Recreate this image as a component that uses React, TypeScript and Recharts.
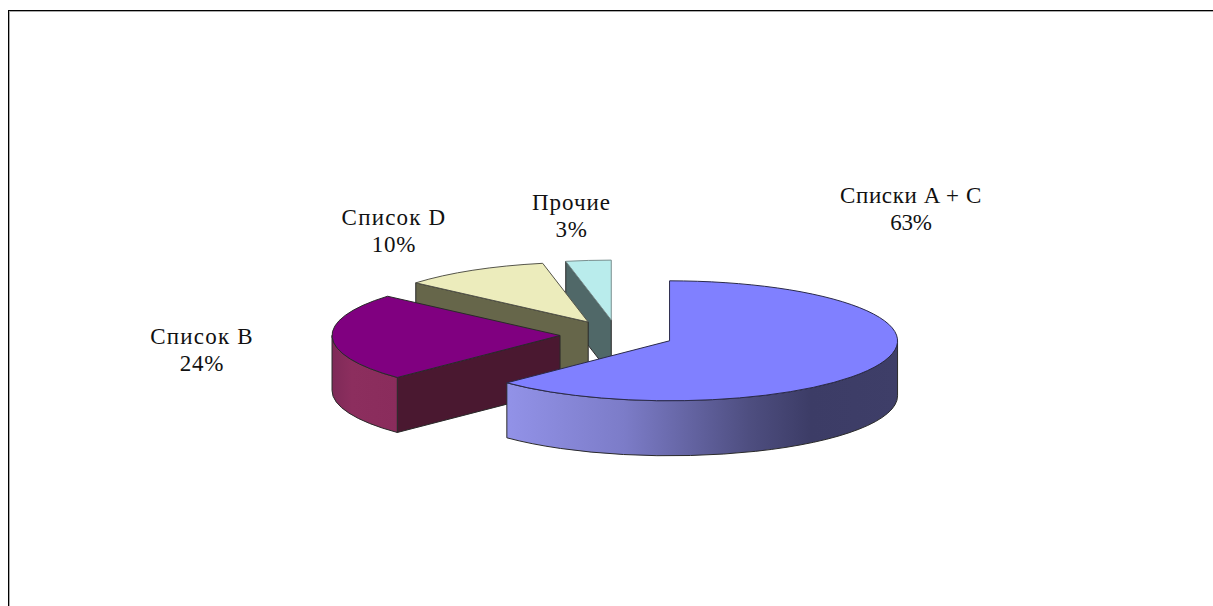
import React from "react";
import { PieChart, Pie } from "recharts";

const categories = ["Прочие", "Список D", "Список B", "Списки A + C"];
const shares = [3.2, 10.45, 23.7, 62.65];
const data = categories.map((name, i) => ({ name, value: shares[i] }));

const W = 1213;
const H = 606;
const CX = 617;
const CY = 335;
const RX = 228;
const SQUISH = 0.263;
const DEPTH = 55;
const EXPLODE = 57;

const topFill: Record<string, string> = {
  "Прочие": "#B9ECEC",
  "Список D": "#ECECBC",
  "Список B": "#800080",
  "Списки A + C": "#8080FF",
};
const wallFill: Record<string, string> = {
  "Прочие": "#506868",
  "Список D": "#66664A",
  "Список B": "#4A1830",
  "Списки A + C": "#3C3C68",
};
const topEdge: Record<string, string> = {
  "Прочие": "#7A9090",
  "Список D": "#55554A",
  "Список B": "#2A2A2A",
  "Списки A + C": "#2A2A4A",
};
const arcStops: Record<string, [number, string][]> = {
  "Список B": [[0, "#7E2A58"], [0.3, "#8C2E5E"], [1, "#8A2C5C"]],
  "Списки A + C": [[0, "#9292E8"], [0.3, "#7C7CC8"], [0.62, "#4E4E80"], [0.78, "#3C3C66"], [1, "#3E3E68"]],
};
const labelPlace: Record<string, { x: number; y: number; s1: number; s2: number }> = {
  "Прочие": { x: 571.5, y: 210, s1: 1.0, s2: 0.6 },
  "Список D": { x: 394, y: 225, s1: 1.2, s2: 0.8 },
  "Список B": { x: 202, y: 344, s1: 1.2, s2: 0.8 },
  "Списки A + C": { x: 911, y: 203, s1: 0.6, s2: -0.2 },
};

const rad = (d: number) => (d * Math.PI) / 180;

function Slice3D(props: any) {
  const { cx, cy, outerRadius, startAngle, endAngle, name, index } = props;
  const mid = (startAngle + endAngle) / 2;
  const ox = cx + EXPLODE * Math.cos(rad(mid));
  const oy = cy - EXPLODE * SQUISH * Math.sin(rad(mid));
  const ry = outerRadius * SQUISH;
  const pt = (a: number, dy = 0): [number, number] => [
    ox + outerRadius * Math.cos(rad(a)),
    oy - ry * Math.sin(rad(a)) + dy,
  ];
  const f = (p: [number, number]) => `${p[0].toFixed(2)} ${p[1].toFixed(2)}`;
  const large = endAngle - startAngle > 180 ? 1 : 0;
  const top = `M ${ox} ${oy} L ${f(pt(startAngle))} A ${outerRadius} ${ry} 0 ${large} 0 ${f(pt(endAngle))} Z`;

  const walls: string[] = [];
  if (Math.cos(rad(endAngle)) < -1e-6) {
    const p = pt(endAngle);
    walls.push(`M ${ox} ${oy} L ${f(p)} L ${p[0]} ${p[1] + DEPTH} L ${ox} ${oy + DEPTH} Z`);
  }
  if (Math.cos(rad(startAngle)) > 1e-6) {
    const p = pt(startAngle);
    walls.push(`M ${ox} ${oy} L ${f(p)} L ${p[0]} ${p[1] + DEPTH} L ${ox} ${oy + DEPTH} Z`);
  }

  const arcFrom = Math.max(startAngle, 180);
  const arcTo = Math.min(endAngle, 360);
  let arc = "";
  if (arcTo > arcFrom) {
    const large2 = arcTo - arcFrom > 180 ? 1 : 0;
    arc =
      `M ${f(pt(arcFrom))} A ${outerRadius} ${ry} 0 ${large2} 0 ${f(pt(arcTo))} ` +
      `L ${f(pt(arcTo, DEPTH))} A ${outerRadius} ${ry} 0 ${large2} 1 ${f(pt(arcFrom, DEPTH))} Z`;
  }
  const gid = `wall-grad-${index}`;
  const stops = arcStops[name];
  const edge = "#2A2A2A";
  return (
    <g>
      {stops && (
        <defs>
          <linearGradient id={gid} x1="0" y1="0" x2="1" y2="0">
            {stops.map(([o, c]) => (
              <stop key={o} offset={o} stopColor={c} />
            ))}
          </linearGradient>
        </defs>
      )}
      {walls.map((d, i) => (
        <path key={i} d={d} fill={wallFill[name]} stroke={edge} strokeWidth={1} strokeLinejoin="round" />
      ))}
      {arc && <path d={arc} fill={stops ? `url(#${gid})` : wallFill[name]} stroke={edge} strokeWidth={1} strokeLinejoin="round" />}
      <path d={top} fill={topFill[name]} stroke={topEdge[name]} strokeWidth={1} strokeLinejoin="round" />
    </g>
  );
}

function SliceLabel(props: any) {
  const { name, value } = props;
  const p = labelPlace[name];
  return (
    <text textAnchor="middle" fontFamily="'Liberation Serif', serif" fontSize={23} fill="#111">
      <tspan x={p.x} y={p.y} letterSpacing={p.s1}>{name}</tspan>
      <tspan x={p.x} y={p.y + 27} letterSpacing={p.s2}>{Math.round(value)}%</tspan>
    </text>
  );
}

export default function App() {
  return (
    <div style={{ position: "absolute", left: 0, top: 0, width: W, height: H, background: "#fff", overflow: "hidden" }}>
      <div style={{ position: "absolute", left: 9, top: 11, width: W, height: H, borderLeft: "1px solid #aaa", borderTop: "1px solid #aaa" }} />
      <div style={{ position: "absolute", left: 8, top: 10, width: W, height: H, borderLeft: "1px solid #000", borderTop: "1px solid #000" }} />
      <div style={{ position: "absolute", left: 0, top: 0 }}>
        <PieChart width={W} height={H} margin={{ top: 0, right: 0, bottom: 0, left: 0 }}>
          <Pie
            data={data}
            dataKey="value"
            nameKey="name"
            cx={CX}
            cy={CY}
            innerRadius={0}
            outerRadius={RX}
            startAngle={90}
            endAngle={450}
            paddingAngle={0}
            stroke="none"
            shape={Slice3D}
            label={SliceLabel}
            labelLine={false}
            isAnimationActive={false}
          />
        </PieChart>
      </div>
    </div>
  );
}
